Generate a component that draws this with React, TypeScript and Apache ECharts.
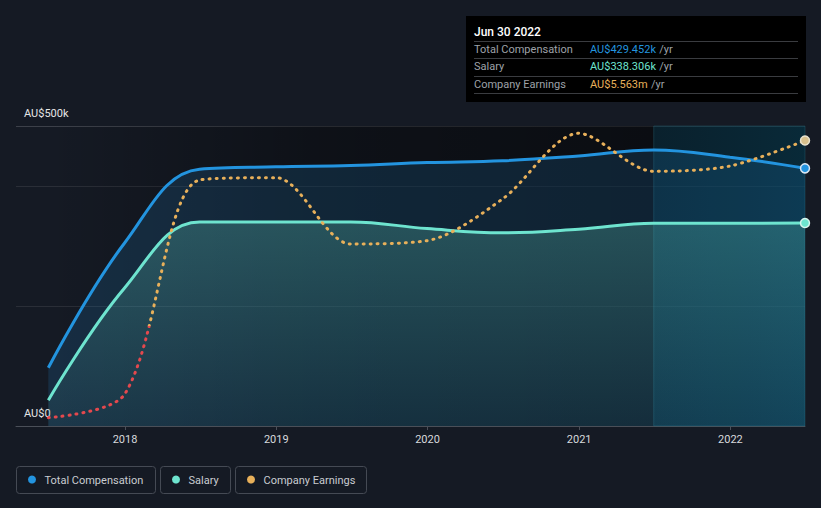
import React, { useEffect, useRef } from "react";
import * as echarts from "echarts";

// ---- data ----
const dates = [
  "2017-06-30", "2017-12-31", "2018-06-30", "2018-12-31", "2019-06-30",
  "2019-12-31", "2020-06-30", "2020-12-31", "2021-06-30", "2021-12-31", "2022-06-30",
];
// AU$ thousands
const totalCompensation = [97, 305, 428, 432, 434, 439, 442, 450, 460, 448, 429.452];
const salary = [43, 230, 340, 340, 340, 329, 322, 328, 338, 338, 338.306];
// AU$ millions (own hidden scale)
const companyEarnings = [-2.75, -2.05, 4.38, 4.45, 2.46, 2.56, 3.81, 5.78, 4.64, 4.8, 5.563];

const yTickLabels: Record<number, string> = { 0: "AU$0", 500: "AU$500k" };
const seriesNames = ["Total Compensation", "Salary", "Company Earnings"];
const seriesColors = ["#2394df", "#6ee4cf", "#e8b05a"];
const negativeColor = "#e5484d";

const tooltipDate = "Jun 30 2022";
const tooltipValues = ["AU$429.452k", "AU$338.306k", "AU$5.563m"];
const tooltipUnit = "/yr";

const highlightStart = "2021-06-30";
const axisStart = "2017-04-13";

const t = (s: string) => new Date(s + "T00:00:00Z").getTime();

export default function App() {
  const ref = useRef<HTMLDivElement>(null);

  useEffect(() => {
    if (!ref.current) return;
    const chart = echarts.init(ref.current, null, { renderer: "svg" });
    const last = dates.length - 1;
    const endSymbol = (_v: any, p: any) => (p.dataIndex === last ? 9 : 0);
    const font = "Roboto";
    const smooth = 0.4;

    const legendBoxes = [
      { x: 16.5, w: 139 },
      { x: 160.5, w: 70 },
      { x: 235.5, w: 131 },
    ];
    const legendGraphics: any[] = [];
    seriesNames.forEach((name, i) => {
      const b = legendBoxes[i];
      legendGraphics.push({
        type: "rect",
        shape: { x: b.x, y: 466.5, width: b.w, height: 27, r: 3 },
        style: { fill: "transparent", stroke: "#454a54", lineWidth: 1 },
      });
      legendGraphics.push({
        type: "circle",
        shape: { cx: b.x + 15.5, cy: 479.5, r: 4 },
        style: { fill: seriesColors[i] },
      });
      legendGraphics.push({
        type: "text",
        x: b.x + 28,
        y: 480,
        style: {
          text: name,
          fill: "#c9ccd1",
          font: `11px ${font}`,
          verticalAlign: "middle",
        },
      });
    });

    const tipGraphics: any[] = [
      {
        type: "rect",
        shape: { x: 466, y: 16, width: 340, height: 86 },
        style: { fill: "#000000" },
      },
      {
        type: "text",
        x: 474,
        y: 32,
        style: {
          text: tooltipDate,
          fill: "#ffffff",
          font: `500 12px ${font}`,
          verticalAlign: "middle",
        },
      },
    ];
    [41.5, 58.5, 76.5, 93.5].forEach((y) => {
      tipGraphics.push({
        type: "line",
        shape: { x1: 474, y1: y, x2: 798, y2: y },
        style: { stroke: "#3a3c40", lineWidth: 1 },
      });
    });
    [49.5, 66.5, 84].forEach((y, i) => {
      tipGraphics.push({
        type: "text",
        x: 474,
        y,
        style: {
          text: seriesNames[i],
          fill: "#9ea2a8",
          font: `11px ${font}`,
          verticalAlign: "middle",
        },
      });
      tipGraphics.push({
        type: "text",
        x: 590,
        y,
        style: {
          text: `{v|${tooltipValues[i]}} {u|${tooltipUnit}}`,
          verticalAlign: "middle",
          rich: {
            v: { fill: seriesColors[i], font: `11px ${font}` },
            u: { fill: "#9ea2a8", font: `11px ${font}` },
          },
        },
      });
    });

    const option: any = {
      animation: false,
      backgroundColor: "#151a24",
      textStyle: { fontFamily: font },
      grid: { left: 16, right: 16, top: 126, bottom: 82, containLabel: false },
      xAxis: {
        type: "time",
        min: t(axisStart),
        max: t(dates[last]),
        minInterval: 365 * 24 * 3600 * 1000,
        splitLine: { show: false },
        axisLine: { lineStyle: { color: "#4a4f58", width: 1 } },
        axisTick: { show: true, length: 4, lineStyle: { color: "#4a4f58" } },
        axisLabel: {
          color: "#d7d9dc",
          fontSize: 11,
          fontFamily: font,
          margin: 8,
          formatter: (v: number) => {
            const d = new Date(v);
            return d.getUTCMonth() === 0 && d.getUTCDate() === 1 ? String(d.getUTCFullYear()) : "";
          },
        },
      },
      yAxis: [
        {
          type: "value",
          min: 0,
          max: 500,
          interval: 200,
          axisLine: { show: false },
          axisTick: { show: false },
          splitLine: {
            show: true,
            lineStyle: {
              color: ["#3a3e47", "rgba(255,255,255,0.09)", "rgba(255,255,255,0.09)", "#3c4049"],
              width: 1,
            },
          },
          axisLabel: {
            inside: true,
            margin: 8,
            align: "left",
            verticalAlign: "bottom",
            padding: [0, 0, 7, 0],
            color: "#e6e6e6",
            fontSize: 11,
            fontFamily: font,
            formatter: (v: number) => yTickLabels[v] ?? "",
          },
          z: 0,
        },
        {
          type: "value",
          min: -3,
          max: 6,
          show: false,
          splitLine: { show: false },
        },
      ],
      series: [
        {
          name: "bg",
          type: "line",
          z: 1,
          data: [
            [t(dates[0]), 0],
            [t(dates[last]), 0],
          ],
          symbol: "none",
          lineStyle: { opacity: 0 },
          silent: true,
          markArea: {
            silent: true,
            data: [
              [
                {
                  xAxis: t(dates[0]),
                  yAxis: 0,
                  itemStyle: {
                    color: {
                      type: "linear",
                      x: 0,
                      y: 0,
                      x2: 1,
                      y2: 0,
                      colorStops: [
                        { offset: 0, color: "rgba(0,0,0,0)" },
                        { offset: 0.45, color: "rgba(0,0,0,0.35)" },
                        { offset: 1, color: "rgba(0,0,0,0.5)" },
                      ],
                    },
                  },
                },
                { xAxis: t(highlightStart), yAxis: 500 },
              ],
              [
                {
                  xAxis: t(highlightStart),
                  yAxis: 0,
                  itemStyle: {
                    color: {
                      type: "linear",
                      x: 0,
                      y: 0,
                      x2: 1,
                      y2: 0,
                      colorStops: [
                        { offset: 0, color: "rgba(0,38,52,0.55)" },
                        { offset: 1, color: "rgba(0,52,70,0.6)" },
                      ],
                    },
                    borderColor: "rgba(40,110,130,0.35)",
                    borderWidth: 1,
                  },
                },
                { xAxis: t(dates[last]), yAxis: 500 },
              ],
            ],
          },
        },
        {
          name: seriesNames[0],
          type: "line",
          z: 2,
          data: dates.map((d, i) => [t(d), totalCompensation[i]]),
          smooth,
          showSymbol: true,
          symbol: "circle",
          symbolSize: endSymbol,
          itemStyle: { color: seriesColors[0], borderColor: "#d9e6f2", borderWidth: 1.5 },
          lineStyle: { color: seriesColors[0], width: 3 },
          areaStyle: { color: "rgba(35,148,223,0.23)" },
        },
        {
          name: seriesNames[1],
          type: "line",
          z: 3,
          data: dates.map((d, i) => [t(d), salary[i]]),
          smooth,
          showSymbol: true,
          symbol: "circle",
          symbolSize: endSymbol,
          itemStyle: { color: seriesColors[1], borderColor: "#d9f5ef", borderWidth: 1.5 },
          lineStyle: { color: seriesColors[1], width: 3 },
          areaStyle: {
            color: {
              type: "linear",
              x: 0,
              y: 0,
              x2: 0,
              y2: 1,
              colorStops: [
                { offset: 0, color: "rgba(110,228,207,0.34)" },
                { offset: 1, color: "rgba(110,228,207,0.08)" },
              ],
            },
          },
        },
        {
          name: seriesNames[2],
          type: "line",
          z: 4,
          yAxisIndex: 1,
          data: dates.map((d, i) => [t(d), companyEarnings[i]]),
          smooth: 0.3,
          showSymbol: true,
          symbol: "circle",
          symbolSize: endSymbol,
          itemStyle: { color: "#d8c08c", borderColor: "#e8e2cf", borderWidth: 1.5 },
          lineStyle: { width: 3, type: [1, 6], cap: "round", color: seriesColors[2] },
        },
      ],
      graphic: [...tipGraphics, ...legendGraphics],
    };

    chart.setOption(option);

    // colour the negative part of the earnings line red, using the library's own scale
    const zeroY = chart.convertToPixel({ yAxisIndex: 1 }, 0) as number;
    const h = chart.getHeight();
    if (typeof zeroY === "number" && isFinite(zeroY)) {
      const off = Math.min(1, Math.max(0, zeroY / h));
      chart.setOption({
        series: [
          {},
          {},
          {},
          {
            lineStyle: {
              color: {
                type: "linear",
                global: true,
                x: 0,
                y: 0,
                x2: 0,
                y2: h,
                colorStops: [
                  { offset: 0, color: seriesColors[2] },
                  { offset: off, color: seriesColors[2] },
                  { offset: off, color: negativeColor },
                  { offset: 1, color: negativeColor },
                ],
              },
            },
          },
        ],
      });
    }

    return () => chart.dispose();
  }, []);

  return (
    <div
      ref={ref}
      style={{ position: "absolute", left: 0, top: 0, width: 821, height: 508 }}
    />
  );
}
